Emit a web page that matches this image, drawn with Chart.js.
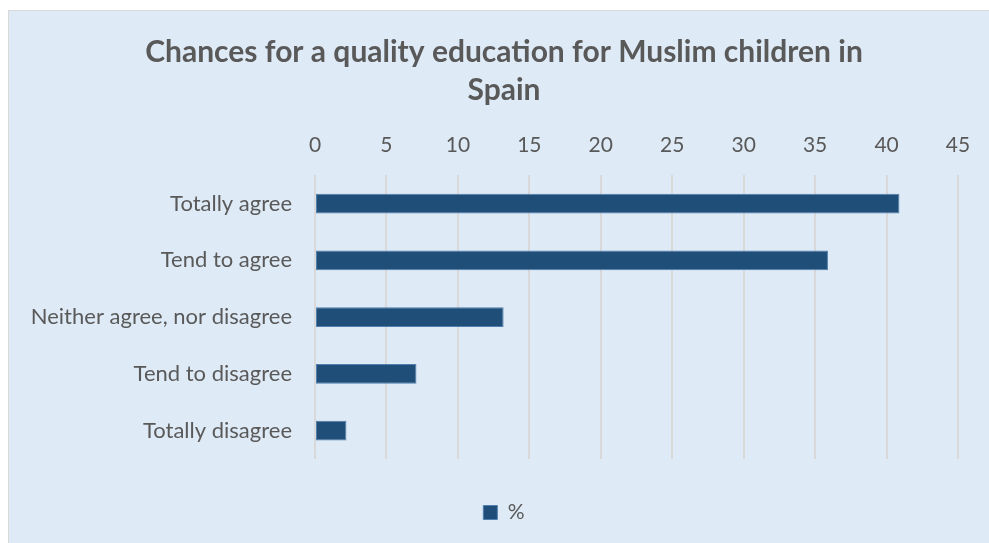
<!DOCTYPE html>
<html>
<head>
<meta charset="utf-8"/>
<title>Chances for a quality education</title>
<script src="https://cdn.jsdelivr.net/npm/chart.js"></script>
<style>
  body {
    margin: 0;
    background: #ffffff;
    font-family: Lato, sans-serif;
  }
  .frame {
    position: absolute;
    left: 8px;
    top: 10px;
    width: 990px;
    height: 540px;
    background: #deeaf6;
    border: 1px solid #d9d9d9;
  }
  .frame canvas {
    display: block;
  }
</style>
</head>
<body>
<div class="frame"><canvas id="chart" width="990" height="532"></canvas></div>
<script>
  const categories = ['Totally agree', 'Tend to agree', 'Neither agree, nor disagree', 'Tend to disagree', 'Totally disagree'];
  const percentages = [40.9, 35.9, 13.2, 7.1, 2.2];
  const seriesName = '%';
  const titleLines = ['Chances for a quality education for Muslim children in', 'Spain'];

  const grey = '#595959';

  // title and legend are centred on the whole frame, not on the padded area
  const centreBlocks = {
    id: 'centreBlocks',
    afterLayout(chart) {
      [chart.titleBlock, chart.legend].forEach(b => {
        b.left = 0;
        b.right = chart.width;
        b.width = chart.width;
      });
      chart.legend.adjustHitBoxes && chart.legend.adjustHitBoxes();
    }
  };

  new Chart(document.getElementById('chart'), {
    type: 'bar',
    data: {
      labels: categories,
      datasets: [{
        label: seriesName,
        data: percentages,
        backgroundColor: '#1f4e79',
        borderColor: '#4f7fae',
        borderWidth: 1,
        borderSkipped: false,
        categoryPercentage: 1,
        barPercentage: 0.35
      }]
    },
    options: {
      indexAxis: 'y',
      responsive: false,
      animation: false,
      layout: { padding: { top: 22, right: 41, left: 0, bottom: 10 } },
      plugins: {
        title: {
          display: true,
          text: titleLines,
          color: grey,
          font: { family: 'Lato', size: 30, weight: 'bold', lineHeight: 1.27 },
          padding: { top: 0, bottom: 0 }
        },
        legend: {
          position: 'bottom',
          // empty title only used as a spacer above the legend item
          title: { display: true, text: ' ', font: { size: 11, lineHeight: 1 }, padding: { top: 12, bottom: 10 } },
          labels: {
            color: grey,
            font: { family: 'Lato', size: 21 },
            boxWidth: 14,
            boxHeight: 14,
            padding: 10
          }
        },
        tooltip: { enabled: false }
      },
      scales: {
        x: {
          position: 'top',
          min: 0,
          max: 45,
          ticks: { stepSize: 5, color: grey, font: { family: 'Lato', size: 21 }, padding: 17 },
          grid: { color: '#d9d9d9', lineWidth: 2, drawTicks: false },
          border: { display: false },
          afterFit: (axis) => { axis.height = 66; }
        },
        y: {
          ticks: { color: grey, font: { family: 'Lato', size: 22 }, padding: 15 },
          grid: { display: false },
          border: { display: false },
          afterFit: (axis) => { axis.width = 306; }
        }
      }
    },
    plugins: [centreBlocks]
  });
</script>
</body>
</html>
